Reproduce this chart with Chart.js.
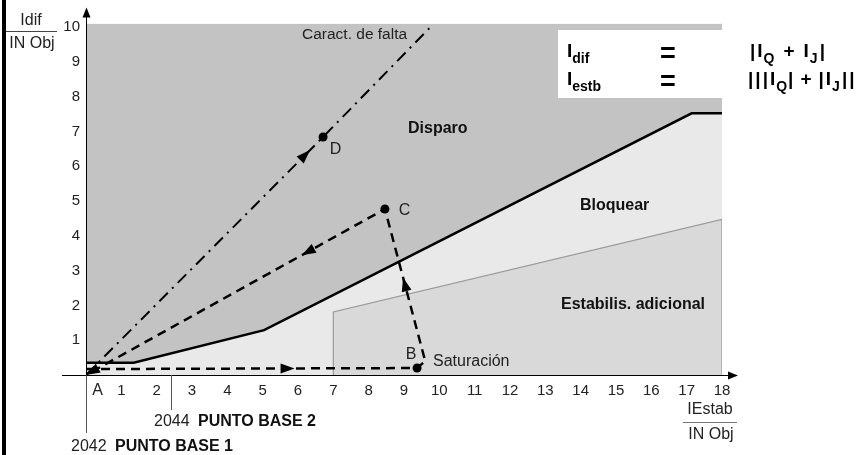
<!DOCTYPE html>
<html><head><meta charset="utf-8">
<script src="https://cdn.jsdelivr.net/npm/chart.js@4.4.0/dist/chart.umd.min.js"></script>
<style>html,body{margin:0;padding:0;background:#fff;}#wrap{width:865px;height:455px;position:relative;}</style>
</head><body><div id="wrap"><canvas id="c" width="865" height="455"></canvas></div>
<script>
// ---- data ----
const xTicks = [1,2,3,4,5,6,7,8,9,10,11,12,13,14,15,16,17,18];
const yTicks = [1,2,3,4,5,6,7,8,9,10];
const xMax = 18;
const yMax = 10.1;
const tripZoneTop = [[0,10.1],[18,10.1]];
const tripCurve = [[0,0.35],[1.35,0.35],[5.04,1.29],[17.14,7.52],[18,7.52]];
const addStabArea = [[7,0],[7,1.81],[18,4.47],[18,0]];
const faultLine = [[0,0],[6.71,6.84],[9.8,10.05]];
const pathABCA = [[0,0.17],[9.37,0.2],[9.6,0.4],[8.46,4.77],[0,0]];
const pathPointSizes = [0,4.5,0,4.5,0];
const basePoint1 = 0;
const basePoint2 = 2.4;
const pointLabels = [
  {t:'A', x:0.18, y:-0.58},
  {t:'B', x:9.05, y:0.45},
  {t:'C', x:8.85, y:4.6},
  {t:'D', x:6.9, y:6.35}
];
// arrowheads: segment and fraction along it
const arrowMarks = [
  {a:pathABCA[0], b:pathABCA[1], f:0.63},
  {a:pathABCA[2], b:pathABCA[3], f:0.55},
  {a:pathABCA[3], b:pathABCA[4], f:0.278},
  {a:pathABCA[3], b:pathABCA[4], f:1.0},
  {a:faultLine[0], b:faultLine[1], f:0.945}
];

const FF = "'Liberation Sans', Arial, sans-serif";
const toXY = arr => arr.map(p => ({x:p[0], y:p[1]}));

const overlay = {
  id:'overlay',
  afterDatasetsDraw(chart){
    const {ctx, chartArea:ca, scales:{x, y}} = chart;
    const px = v => x.getPixelForValue(v), py = v => y.getPixelForValue(v);
    ctx.save();
    const head = (tx, ty, ang, L, W) => {
      const c = Math.cos(ang), s = Math.sin(ang);
      ctx.beginPath();
      ctx.moveTo(tx, ty);
      ctx.lineTo(tx - L*c - W*s, ty - L*s + W*c);
      ctx.lineTo(tx - L*c + W*s, ty - L*s - W*c);
      ctx.closePath();
      ctx.fill();
    };
    ctx.fillStyle = '#000';
    arrowMarks.forEach(m => {
      const ax = px(m.a[0]), ay = py(m.a[1]), bx = px(m.b[0]), by = py(m.b[1]);
      const tx = ax + (bx-ax)*m.f, ty = ay + (by-ay)*m.f;
      head(tx, ty, Math.atan2(by-ay, bx-ax), 14, 5);
    });
    // axes
    const x0 = px(0), y0 = py(0);
    ctx.strokeStyle = '#000'; ctx.lineWidth = 1;
    ctx.beginPath(); ctx.moveTo(ca.left-24, y0+0.5); ctx.lineTo(ca.right+8, y0+0.5); ctx.stroke();
    head(ca.right+16, y0+0.5, 0, 10, 4);
    ctx.beginPath(); ctx.moveTo(x0+0.5, ca.top-8); ctx.lineTo(x0+0.5, y0); ctx.stroke();
    head(x0+0.5, ca.top-16, -Math.PI/2, 10, 4);
    // base point lines
    ctx.strokeStyle = '#555';
    ctx.beginPath(); ctx.moveTo(px(basePoint1)+0.5, y0); ctx.lineTo(px(basePoint1)+0.5, y0+58); ctx.stroke();
    ctx.beginPath(); ctx.moveTo(Math.round(px(basePoint2))+0.5, y0); ctx.lineTo(Math.round(px(basePoint2))+0.5, y0+35); ctx.stroke();
    // texts
    ctx.textBaseline = 'alphabetic';
    ctx.fillStyle = '#222';
    ctx.font = `16px ${FF}`; ctx.textAlign = 'left';
    pointLabels.forEach(p => ctx.fillText(p.t, px(p.x), py(p.y)));
    ctx.font = `15.5px ${FF}`;
    ctx.fillText('Caract. de falta', 302, 39);
    ctx.font = `16px ${FF}`;
    ctx.fillText('Saturación', 433, 366);
    ctx.font = `bold 16px ${FF}`; ctx.fillStyle = '#111';
    ctx.fillText('Disparo', 408, 133);
    ctx.fillText('Bloquear', 580, 210);
    ctx.fillText('Estabilis. adicional', 561, 309);
    // axis titles
    ctx.fillStyle = '#222'; ctx.font = `16px ${FF}`; ctx.textAlign = 'center';
    ctx.fillText('Idif', 31, 25);
    ctx.fillText('IN Obj', 32, 48);
    ctx.fillText('IEstab', 710, 414);
    ctx.fillText('IN Obj', 711, 439);
    ctx.strokeStyle = '#444';
    ctx.beginPath(); ctx.moveTo(5, 31.5); ctx.lineTo(57, 31.5); ctx.stroke();
    ctx.strokeStyle = '#777';
    ctx.beginPath(); ctx.moveTo(683, 422.5); ctx.lineTo(737, 422.5); ctx.stroke();
    // base point texts
    ctx.textAlign = 'left';
    ctx.font = `16px ${FF}`; ctx.fillStyle = '#222'; ctx.fillText('2044', 154, 426);
    ctx.font = `bold 16px ${FF}`; ctx.fillStyle = '#111'; ctx.fillText('PUNTO BASE 2', 198, 426);
    ctx.font = `16px ${FF}`; ctx.fillStyle = '#222'; ctx.fillText('2042', 71, 451);
    ctx.font = `bold 16px ${FF}`; ctx.fillStyle = '#111'; ctx.fillText('PUNTO BASE 1', 115, 451);
    // formula box
    ctx.fillStyle = '#fff'; ctx.fillRect(558, 30, 164, 68);
    ctx.fillStyle = '#000';
    const seq = (x0s, base, parts) => {
      let cx = x0s;
      parts.forEach(p => {
        ctx.font = p.s ? `bold 14px ${FF}` : `bold 19px ${FF}`;
        ctx.fillText(p.t, cx, base + (p.s ? 6 : 0));
        cx += ctx.measureText(p.t).width + (p.g || 0);
      });
    };
    seq(567, 57, [{t:'I',g:0},{t:'dif',s:1}]);
    seq(567, 85, [{t:'I',g:0},{t:'estb',s:1}]);
    ctx.font = `bold 27px ${FF}`;
    ctx.fillText('=', 660, 62); ctx.fillText('=', 660, 90);
    seq(750, 57, [{t:'|',g:2},{t:'I',g:1},{t:'Q',s:1,g:9},{t:'+',g:9},{t:'I',g:1},{t:'J',s:1,g:2},{t:'|'}]);
    seq(748, 85, [{t:'|',g:2},{t:'|',g:2},{t:'|',g:2},{t:'I',g:1},{t:'Q',s:1,g:1},{t:'|',g:7},{t:'+',g:7},{t:'|',g:2},{t:'I',g:1},{t:'J',s:1,g:2},{t:'|',g:2},{t:'|'}]);
    // frame left edge
    ctx.fillStyle = '#000'; ctx.fillRect(2, 0, 4, 455);
    ctx.restore();
  }
};

new Chart(document.getElementById('c'), {
  type:'scatter',
  data:{ datasets:[
    {label:'Disparo', data:toXY(tripZoneTop), showLine:true, borderWidth:0, pointRadius:0, fill:'origin', backgroundColor:'#c3c3c3', order:12},
    {label:'Bloquear', data:toXY(tripCurve), showLine:true, borderColor:'#000', borderWidth:2.5, pointRadius:0, fill:'origin', backgroundColor:'#e9e9e9', order:11},
    {label:'Estabilis. adicional', data:toXY(addStabArea), showLine:true, borderColor:'#9a9a9a', borderWidth:1.2, pointRadius:0, fill:'origin', backgroundColor:'#d9d9d9', order:10},
    {label:'Caract. de falta', data:toXY(faultLine), showLine:true, borderColor:'#000', borderWidth:2, borderDash:[12,6,2,6], pointRadius:[0,4.5,0], pointBackgroundColor:'#000', pointBorderWidth:0, fill:false, order:2},
    {label:'Trayectoria', data:toXY(pathABCA), showLine:true, borderColor:'#000', borderWidth:2.5, borderDash:[9,6], pointRadius:pathPointSizes, pointBackgroundColor:'#000', pointBorderWidth:0, fill:false, order:1}
  ]},
  options:{
    responsive:false, animation:false, devicePixelRatio:1,
    layout:{padding:{left:0, right:143, top:23.5, bottom:0}},
    plugins:{legend:{display:false}, tooltip:{enabled:false}},
    scales:{
      x:{type:'linear', min:0, max:xMax,
        afterBuildTicks:s => { s.ticks = xTicks.map(v => ({value:v})); },
        afterFit:s => { s.height = 80; },
        grid:{display:false, drawTicks:false, tickLength:0}, border:{display:false},
        ticks:{color:'#222', font:{family:FF, size:15}, padding:7, maxRotation:0, autoSkip:false}},
      y:{type:'linear', min:0, max:yMax,
        afterBuildTicks:s => { s.ticks = yTicks.map(v => ({value:v})); },
        afterFit:s => { s.width = 86; },
        grid:{display:false, drawTicks:false, tickLength:0}, border:{display:false},
        ticks:{color:'#222', font:{family:FF, size:15}, padding:6, autoSkip:false}}
    }
  },
  plugins:[overlay]
});
</script></body></html>
